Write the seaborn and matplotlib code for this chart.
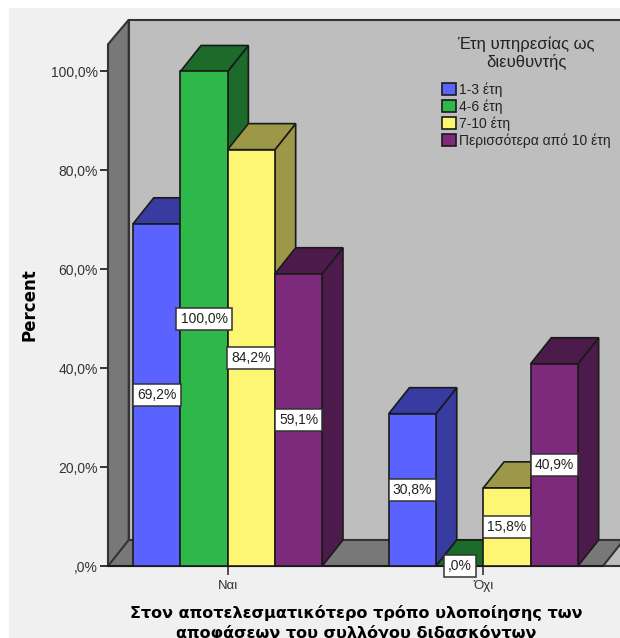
import matplotlib
matplotlib.use("Agg")
import matplotlib.pyplot as plt
from matplotlib.patches import Polygon, Rectangle
import pandas as pd
import seaborn as sns

answers = ["Ναι", "Όχι"]
service_groups = ["1-3 έτη", "4-6 έτη", "7-10 έτη", "Περισσότερα από 10 έτη"]
yes_values = [69.2, 100.0, 84.2, 59.1]
no_values = [30.8, 0.0, 15.8, 40.9]
front_colors = ["#5A62FF", "#2EB849", "#FDF672", "#7D2A7C"]
shade_colors = ["#383CA0", "#1C6B2B", "#9C9848", "#4D1A4C"]
y_ticks = [0, 20, 40, 60, 80, 100]
legend_title = "Έτη υπηρεσίας ως\nδιευθυντής"
x_title = "Στον αποτελεσματικότερο τρόπο υλοποίησης των\nαποφάσεων του συλλόγου διδασκόντων"
y_title = "Percent"

W, H = 620, 638
EDGE = "#1A1A1A"
DEPTH_X = 0.081
DEPTH_Y = 5.26


def percent_text(value):
    text = f"{value:.1f}".replace(".", ",")
    return (text[1:] if text.startswith("0,") else text) + "%"


sns.set_theme(style="white")
plt.rcParams["font.family"] = ["Liberation Sans", "DejaVu Sans"]

rows = [
    {"answer": a, "group": g, "percent": v}
    for a, vals in zip(answers, [yes_values, no_values])
    for g, v in zip(service_groups, vals)
]
data = pd.DataFrame(rows)

fig = plt.figure(figsize=(W / 100, H / 100), dpi=100, facecolor="white")
fig.add_artist(Rectangle((9 / W, 0), 1 - 9 / W, 1 - 8 / H, transform=fig.transFigure,
                         facecolor="#F0F0F0", edgecolor="none", zorder=-10))
ax = fig.add_axes([108 / W, (H - 566) / H, (603 - 108) / W, (566 - 44.3) / H])
ax.patch.set_visible(False)

sns.barplot(data=data, x="answer", y="percent", hue="group", order=answers,
            hue_order=service_groups, palette=front_colors, saturation=1,
            width=0.74, dodge=True, gap=0, edgecolor=EDGE, linewidth=1.2, ax=ax)

ax.set_xlim(-0.468, 1.468)
ax.set_ylim(0, 105.5)
xmin, xmax = ax.get_xlim()

# Box walls and floor behind the bars
box = [
    ([(xmin + DEPTH_X, 0), (xmin + DEPTH_X, 105.5 + DEPTH_Y - 0.3), (xmax + DEPTH_X, 105.5 + DEPTH_Y - 0.3),
      (xmax + DEPTH_X, 0)], "#BEBEBE"),
    ([(xmin, 0), (xmin, 105.5), (xmin + DEPTH_X, 105.5 + DEPTH_Y - 0.3), (xmin + DEPTH_X, 0)], "#787878"),
    ([(xmin, 0), (xmin + DEPTH_X, DEPTH_Y), (xmax + DEPTH_X, DEPTH_Y), (xmax, 0)], "#787878"),
]
for corners, color in box:
    ax.add_patch(Polygon(corners, closed=True, facecolor=color, edgecolor="#333333",
                         linewidth=1.5, zorder=0.5, clip_on=False))

# Side and top faces, painted left to right so nearer bars cover farther ones
bars = sorted([(bar, h) for h, cont in enumerate(ax.containers) for bar in cont],
              key=lambda item: item[0].get_x())
for order, (bar, h) in enumerate(bars):
    x0, x1 = bar.get_x(), bar.get_x() + bar.get_width()
    top = bar.get_height()
    base = 2 + order
    side = [(x1, 0), (x1, top), (x1 + DEPTH_X, top + DEPTH_Y), (x1 + DEPTH_X, DEPTH_Y)]
    cap = [(x0, top), (x0 + DEPTH_X, top + DEPTH_Y), (x1 + DEPTH_X, top + DEPTH_Y), (x1, top)]
    for corners in (side, cap):
        ax.add_patch(Polygon(corners, closed=True, facecolor=shade_colors[h], edgecolor=EDGE,
                             linewidth=1.2, zorder=base, clip_on=False))
    bar.set_zorder(base + 0.5)
    bar.set_clip_on(False)

for cont in ax.containers:
    texts = ax.bar_label(cont, labels=[percent_text(b.get_height()) for b in cont],
                         label_type="center", fontsize=10, color="#222222",
                         bbox=dict(boxstyle="square,pad=0.3", facecolor="white",
                                   edgecolor="#333333", linewidth=1.1))
    for t in texts:
        t.set_zorder(50)

for side_name in ("top", "right", "left", "bottom"):
    ax.spines[side_name].set_visible(False)
ax.axhline(0, color=EDGE, lw=1.4, zorder=1, clip_on=False)

ax.set_yticks(y_ticks)
ax.set_yticklabels([percent_text(v) for v in y_ticks], fontsize=10, color="#333333")
ax.tick_params(axis="y", left=True, length=5.8, width=1.4, color="#333333", pad=1.5)
ax.tick_params(axis="x", bottom=True, length=6.5, width=1.2, color="#333333", pad=3.5,
               labelsize=9.5, labelcolor="#333333")

ax.set_ylabel(y_title, fontsize=12, fontweight="bold", family="DejaVu Sans", color="black")
ax.yaxis.set_label_coords(38 / W, 1 - 305 / H, transform=fig.transFigure)
ax.set_xlabel(x_title, fontsize=11.5, fontweight="bold", family="DejaVu Sans", color="black",
              linespacing=1.3, va="top")
ax.xaxis.set_label_coords(356 / W, 1 - 605 / H, transform=fig.transFigure)

sns.move_legend(ax, loc="upper left", bbox_to_anchor=(442 / W, 1 - 37 / H),
                bbox_transform=fig.transFigure, frameon=False, title=legend_title,
                fontsize=10, title_fontsize=12, handlelength=1.0, handleheight=1.0,
                handletextpad=0.2, labelspacing=0.18, borderpad=0, borderaxespad=0)
legend = ax.get_legend()
legend.set_zorder(60)
legend._legend_box.sep = 9
legend.get_title().set_multialignment("center")
legend.get_title().set_linespacing(1.1)
legend.get_title().set_color("#222222")
for t in legend.get_texts():
    t.set_color("#222222")

fig.savefig("out.png", dpi=100)
